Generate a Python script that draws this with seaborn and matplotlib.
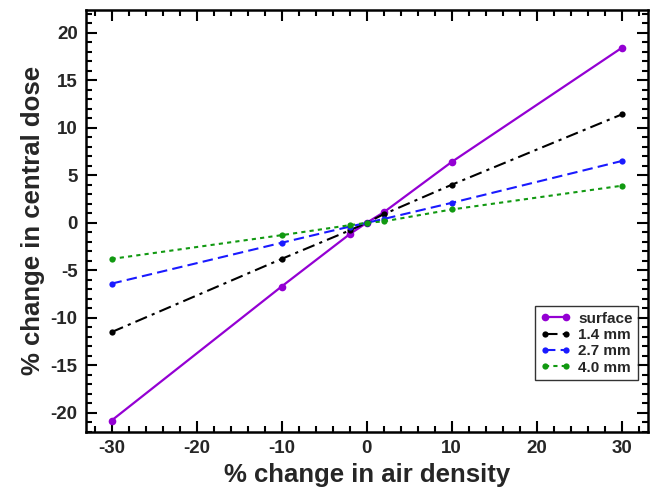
import numpy as np
import pandas as pd
import matplotlib
matplotlib.use("Agg")
import matplotlib.pyplot as plt
import seaborn as sns
from matplotlib.ticker import MultipleLocator

sns.set_theme(style="ticks")
plt.rcParams['font.family'] = ['Liberation Sans', 'DejaVu Sans']
plt.rcParams['font.weight'] = 'bold'
plt.rcParams['axes.unicode_minus'] = False

x_vals = [-30, -10, -2, 0, 2, 10, 30]
surface = [-20.8, -6.7, -1.2, 0.0, 1.1, 6.4, 18.4]
mm_1_4 = [-11.5, -3.8, -0.8, 0.0, 0.9, 4.0, 11.4]
mm_2_7 = [-6.4, -2.1, -0.4, 0.0, 0.4, 2.1, 6.5]
mm_4_0 = [-3.8, -1.3, -0.25, 0.0, 0.15, 1.4, 3.9]
series_names = ["surface", "1.4 mm", "2.7 mm", "4.0 mm"]

rows = []
for name, vals in zip(series_names, [surface, mm_1_4, mm_2_7, mm_4_0]):
    for xv, yv in zip(x_vals, vals):
        rows.append({"air": xv, "dose": yv, "series": name})
df = pd.DataFrame(rows)

colors = {"surface": "#9400D3", "1.4 mm": "#000000", "2.7 mm": "#1a1aff", "4.0 mm": "#119911"}
styles = {"surface": "-", "1.4 mm": (0, (6, 2.5, 1.5, 2.5)), "2.7 mm": (0, (5, 2.5)), "4.0 mm": (0, (2, 2))}

fig = plt.figure(figsize=(6.54, 4.92), dpi=100)
ax = fig.add_axes([0.1315, 0.122, 0.8595, 0.858])

for name in series_names:
    sub = df[df["series"] == name]
    sns.lineplot(data=sub, x="air", y="dose", ax=ax, color=colors[name],
                 linestyle=styles[name], linewidth=1.6 if name == "surface" else 1.5,
                 marker="o", markersize=5.5 if name == "surface" else 4.5,
                 markeredgewidth=0, label=name, sort=False)

ax.set_xlim(-33, 33.1)
ax.set_ylim(-22, 22.4)
ax.xaxis.set_major_locator(MultipleLocator(10))
ax.xaxis.set_minor_locator(MultipleLocator(2))
ax.yaxis.set_major_locator(MultipleLocator(5))
ax.yaxis.set_minor_locator(MultipleLocator(1))
ax.tick_params(which="both", direction="in", top=True, right=True, width=1.5, color="black")
ax.tick_params(which="major", length=8, labelsize=13.5, pad=6)
ax.tick_params(which="minor", length=4)
for lab in ax.get_xticklabels() + ax.get_yticklabels():
    lab.set_fontweight("bold")
for s in ax.spines.values():
    s.set_linewidth(1.8)
    s.set_color("black")

ax.set_xlabel("% change in air density", fontsize=18.5, fontweight="bold", labelpad=4)
ax.set_ylabel("% change in central dose", fontsize=18.5, fontweight="bold", labelpad=4)

leg = ax.legend(loc="lower right", bbox_to_anchor=(0.982, 0.123), numpoints=2,
                frameon=True, fancybox=False, handlelength=2.0, handletextpad=0.5,
                labelspacing=0.15, borderpad=0.35, borderaxespad=0.0,
                prop={"weight": "bold", "size": 11})
leg.get_frame().set_edgecolor("black")
leg.get_frame().set_linewidth(1.0)

fig.savefig("out.png", dpi=100)
